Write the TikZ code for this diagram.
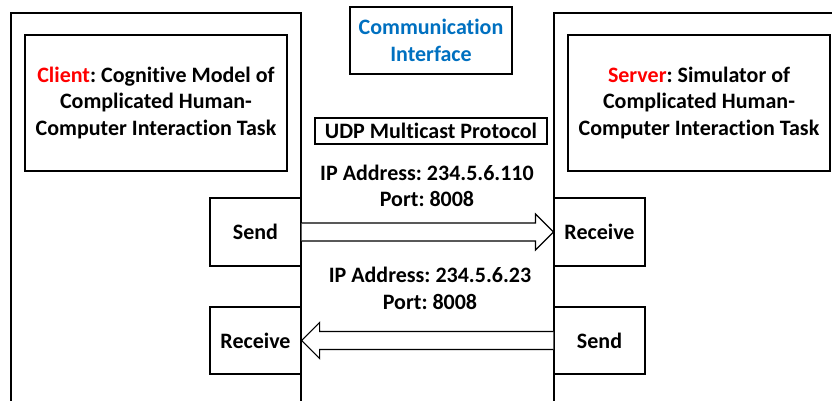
\documentclass[tikz,border=0pt]{standalone}
\usepackage{fontspec}
\setmainfont{Carlito}[Ligatures={NoCommon}]
\frenchspacing
\definecolor{cblue}{RGB}{0,112,192}
\definecolor{cred}{RGB}{255,0,0}
\begin{document}
\begin{tikzpicture}[x=1pt,y=-1pt,
  every node/.style={font=\fontsize{22}{26.5}\selectfont\bfseries\frenchspacing, align=center, inner sep=0pt},
  box/.style={draw, line width=1.2pt},
  frame/.style={draw, line width=1.2pt},
  fat/.style={draw, line width=1.2pt, fill=white, line join=miter}]
\useasboundingbox (0,0) rectangle (832,401);
% outer frames
\draw[frame] (11,402) -- (11,13) -- (301,13) -- (301,402);
\draw[frame] (833,13) -- (554,13) -- (554,402);
% main boxes
\node[box, minimum width=262pt, minimum height=136pt] (client) at (156,103)
  {\textcolor{cred}{Client}: Cognitive Model of\\Complicated Human-\\Computer Interaction Task};
\node[box, minimum width=262pt, minimum height=136pt] (server) at (699,103)
  {\textcolor{cred}{Server}: Simulator of\\Complicated Human-\\Computer Interaction Task};
\node[box, minimum width=162pt, minimum height=67pt, text=cblue] (comm) at (431,40.5)
  {Communication\\Interface};
\node[box, minimum width=232pt, minimum height=26pt] (udp) at (431,131) {UDP Multicast Protocol};
\node (ip1) at (427,186) {IP Address: 234.5.6.110\\Port: 8008};
\node (ip2) at (430,288.5) {IP Address: 234.5.6.23\\Port: 8008};
% send / receive boxes
\node[box, minimum width=91pt, minimum height=68pt] (sendL) at (255.5,232) {Send};
\node[box, minimum width=91pt, minimum height=67pt] (recvL) at (255.5,340.5) {Receive};
\node[box, minimum width=91pt, minimum height=68pt] (recvR) at (599.5,232) {Receive};
\node[box, minimum width=91pt, minimum height=67pt] (sendR) at (599.5,340.5) {Send};
% arrows
\draw[fat] ([yshift=9pt]sendL.east) -- ([xshift=-18pt,yshift=9pt]recvR.west)
  -- ([xshift=-18pt,yshift=18pt]recvR.west) -- (recvR.west)
  -- ([xshift=-18pt,yshift=-18pt]recvR.west) -- ([xshift=-18pt,yshift=-9pt]recvR.west)
  -- ([yshift=-9pt]sendL.east);
\draw[fat] ([yshift=9pt]sendR.west) -- ([xshift=18pt,yshift=9pt]recvL.east)
  -- ([xshift=18pt,yshift=18pt]recvL.east) -- (recvL.east)
  -- ([xshift=18pt,yshift=-18pt]recvL.east) -- ([xshift=18pt,yshift=-9pt]recvL.east)
  -- ([yshift=-9pt]sendR.west);
\end{tikzpicture}
\end{document}
